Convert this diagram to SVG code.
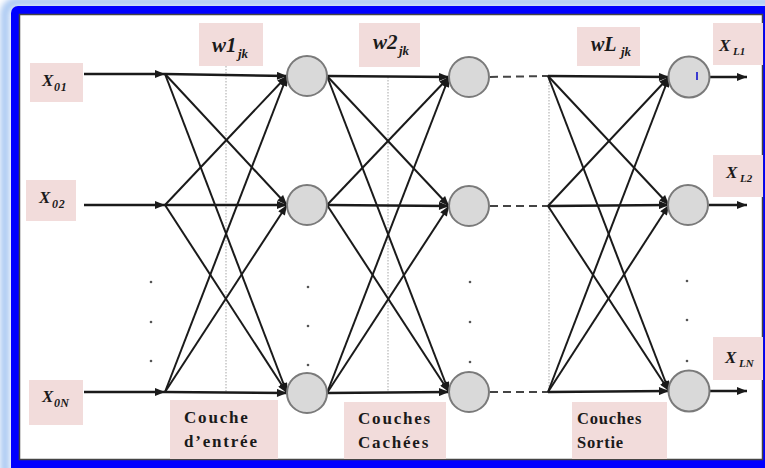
<svg xmlns="http://www.w3.org/2000/svg" width="765" height="468" viewBox="0 0 765 468">
<style>
.box{fill:#f2dcdb}
.lbl{font-family:"Liberation Serif","Times New Roman",serif;font-weight:bold;font-style:italic;fill:#1a1a1a}
.cap{font-family:"Liberation Serif","Times New Roman",serif;font-weight:bold;fill:#1a1a1a;font-size:17px;letter-spacing:1.8px}
.node{fill:#d9d9d9;stroke:#7a7a7a;stroke-width:2}
.ln{stroke:#1a1a1a;stroke-width:2;fill:none}
.ha{stroke-width:2.6}
.dash{stroke:#444;stroke-width:2;stroke-dasharray:8 5;fill:none}
.dot{stroke:#c4c4c4;stroke-width:1.5;stroke-dasharray:1.5 1.5;fill:none}
.pt{fill:#555}
</style>
<defs>
<filter id="glow" x="-5%" y="-5%" width="110%" height="110%"><feGaussianBlur stdDeviation="3"/></filter>
<marker id="arr" viewBox="0 0 10 8" refX="10" refY="4" markerWidth="11" markerHeight="8" markerUnits="userSpaceOnUse" orient="auto"><path d="M0,0 L10,4 L0,8 z" fill="#1a1a1a"/></marker>
</defs>
<rect x="0" y="0" width="765" height="468" fill="#ffffff"/>
<rect x="5" y="2" width="800" height="480" rx="12" fill="none" stroke="#a9c8f2" stroke-width="9" filter="url(#glow)"/>
<rect x="11" y="6" width="800" height="500" rx="7" fill="#0000ff"/>
<rect x="19.5" y="14.5" width="743" height="445" fill="#ffffff" stroke="#444" stroke-width="1.5"/>

<g id="labels-boxes">
<rect class="box" x="30" y="63" width="53" height="39"/>
<rect class="box" x="26" y="180" width="50" height="41"/>
<rect class="box" x="29" y="380" width="54" height="45"/>
<rect class="box" x="199" y="23" width="64" height="43"/>
<rect class="box" x="359" y="23" width="61" height="44"/>
<rect class="box" x="577" y="27" width="63" height="39"/>
<rect class="box" x="713" y="23" width="50" height="42"/>
<rect class="box" x="713" y="155" width="50" height="42"/>
<rect class="box" x="713" y="337" width="50" height="43"/>
<rect class="box" x="170" y="400" width="108" height="59"/>
<rect class="box" x="344" y="402" width="102" height="57"/>
<rect class="box" x="572" y="402" width="95" height="57"/>
</g>

<g id="guides">
<line class="dot" x1="226" y1="66" x2="226" y2="393"/>
<line class="dot" x1="388" y1="77" x2="388" y2="393"/>
<line class="dot" x1="549" y1="76" x2="549" y2="393"/>
</g>

<g id="connectors">
<line class="ln ha" x1="84" y1="74" x2="165" y2="74" marker-end="url(#arr)"/>
<line class="ln ha" x1="84" y1="205" x2="165" y2="205" marker-end="url(#arr)"/>
<line class="ln ha" x1="84" y1="392" x2="165" y2="392" marker-end="url(#arr)"/>
<line class="ln ha" x1="165" y1="74" x2="287" y2="76" marker-end="url(#arr)"/>
<line class="ln" x1="165" y1="74" x2="287" y2="205" marker-end="url(#arr)"/>
<line class="ln" x1="165" y1="74" x2="287" y2="393" marker-end="url(#arr)"/>
<line class="ln" x1="165" y1="205" x2="287" y2="76" marker-end="url(#arr)"/>
<line class="ln ha" x1="165" y1="205" x2="287" y2="205" marker-end="url(#arr)"/>
<line class="ln" x1="165" y1="205" x2="287" y2="393" marker-end="url(#arr)"/>
<line class="ln" x1="165" y1="392" x2="287" y2="76" marker-end="url(#arr)"/>
<line class="ln" x1="165" y1="392" x2="287" y2="205" marker-end="url(#arr)"/>
<line class="ln ha" x1="165" y1="392" x2="287" y2="393" marker-end="url(#arr)"/>
<line class="ln ha" x1="327" y1="76" x2="449" y2="77" marker-end="url(#arr)"/>
<line class="ln" x1="327" y1="76" x2="449" y2="206" marker-end="url(#arr)"/>
<line class="ln" x1="327" y1="76" x2="449" y2="392" marker-end="url(#arr)"/>
<line class="ln" x1="327" y1="205" x2="449" y2="77" marker-end="url(#arr)"/>
<line class="ln ha" x1="327" y1="205" x2="449" y2="206" marker-end="url(#arr)"/>
<line class="ln" x1="327" y1="205" x2="449" y2="392" marker-end="url(#arr)"/>
<line class="ln" x1="327" y1="393" x2="449" y2="77" marker-end="url(#arr)"/>
<line class="ln" x1="327" y1="393" x2="449" y2="206" marker-end="url(#arr)"/>
<line class="ln ha" x1="327" y1="393" x2="449" y2="392" marker-end="url(#arr)"/>
<line class="dash" x1="490" y1="77" x2="548" y2="76"/>
<line class="dash" x1="490" y1="206" x2="548" y2="206"/>
<line class="dash" x1="490" y1="392" x2="548" y2="392"/>
<line class="ln ha" x1="548" y1="76" x2="669" y2="77" marker-end="url(#arr)"/>
<line class="ln" x1="548" y1="76" x2="669" y2="205" marker-end="url(#arr)"/>
<line class="ln" x1="548" y1="76" x2="669" y2="391" marker-end="url(#arr)"/>
<line class="ln" x1="548" y1="206" x2="669" y2="77" marker-end="url(#arr)"/>
<line class="ln ha" x1="548" y1="206" x2="669" y2="205" marker-end="url(#arr)"/>
<line class="ln" x1="548" y1="206" x2="669" y2="391" marker-end="url(#arr)"/>
<line class="ln" x1="548" y1="392" x2="669" y2="77" marker-end="url(#arr)"/>
<line class="ln" x1="548" y1="392" x2="669" y2="205" marker-end="url(#arr)"/>
<line class="ln ha" x1="548" y1="392" x2="669" y2="391" marker-end="url(#arr)"/>
<line class="ln ha" x1="710" y1="77" x2="747" y2="77" marker-end="url(#arr)"/>
<line class="ln ha" x1="709" y1="205" x2="747" y2="205" marker-end="url(#arr)"/>
<line class="ln ha" x1="710" y1="391" x2="747" y2="391" marker-end="url(#arr)"/>
</g>

<g id="ellipsis">
<circle class="pt" cx="151" cy="282" r="1.3"/><circle class="pt" cx="151" cy="322" r="1.3"/><circle class="pt" cx="151" cy="361" r="1.3"/>
<circle class="pt" cx="308" cy="287" r="1.3"/><circle class="pt" cx="308" cy="326" r="1.3"/><circle class="pt" cx="308" cy="365" r="1.3"/>
<circle class="pt" cx="470" cy="282" r="1.3"/><circle class="pt" cx="470" cy="322" r="1.3"/><circle class="pt" cx="470" cy="362" r="1.3"/>
<circle class="pt" cx="687" cy="281" r="1.3"/><circle class="pt" cx="687" cy="320" r="1.3"/><circle class="pt" cx="687" cy="361" r="1.3"/>
</g>

<g id="n-h1-1"><circle class="node" cx="307" cy="76" r="20"/></g>
<g id="n-h1-2"><circle class="node" cx="307" cy="205" r="20"/></g>
<g id="n-h1-N"><circle class="node" cx="307" cy="393" r="20"/></g>
<g id="n-h2-1"><circle class="node" cx="469" cy="77" r="20"/></g>
<g id="n-h2-2"><circle class="node" cx="469" cy="206" r="20"/></g>
<g id="n-h2-N"><circle class="node" cx="469" cy="392" r="20"/></g>
<g id="n-out-1"><circle class="node" cx="689" cy="77" r="20.5"/><line x1="697" y1="72" x2="697" y2="80" stroke="#3a3ad0" stroke-width="2"/></g>
<g id="n-out-2"><circle class="node" cx="688" cy="205" r="20"/></g>
<g id="n-out-N"><circle class="node" cx="689" cy="391" r="20.5"/></g>

<g id="in-1"><text class="lbl" font-size="17"><tspan x="42" y="86">X</tspan><tspan x="54" y="91" font-size="12" letter-spacing="0.8">01</tspan></text></g>
<g id="in-2"><text class="lbl" font-size="17"><tspan x="39" y="203">X</tspan><tspan x="52" y="208" font-size="12" letter-spacing="0.8">02</tspan></text></g>
<g id="in-N"><text class="lbl" font-size="17"><tspan x="42" y="402">X</tspan><tspan x="54" y="407" font-size="12" letter-spacing="0.3">0N</tspan></text></g>
<g id="w1"><text class="lbl" font-size="21"><tspan x="212" y="52">w1</tspan><tspan x="238" y="58" font-size="13">jk</tspan></text></g>
<g id="w2"><text class="lbl" font-size="21"><tspan x="373" y="49">w2</tspan><tspan x="399" y="55" font-size="13">jk</tspan></text></g>
<g id="wL"><text class="lbl" font-size="20"><tspan x="591" y="51">wL</tspan><tspan x="621" y="56" font-size="13">jk</tspan></text></g>
<g id="out-1"><text class="lbl" font-size="17"><tspan x="719" y="51">X</tspan><tspan x="733" y="55" font-size="11">L1</tspan></text></g>
<g id="out-2"><text class="lbl" font-size="17"><tspan x="726" y="178">X</tspan><tspan x="740" y="182" font-size="11">L2</tspan></text></g>
<g id="out-N"><text class="lbl" font-size="17"><tspan x="725" y="363">X</tspan><tspan x="739" y="367" font-size="11">LN</tspan></text></g>
<g id="cap-entree"><text class="cap"><tspan x="184" y="423">Couche</tspan><tspan x="184" y="447">d’entrée</tspan></text></g>
<g id="cap-cachees"><text class="cap"><tspan x="358" y="424">Couches</tspan><tspan x="358" y="448">Cachées</tspan></text></g>
<g id="cap-sortie"><text class="cap" style="font-size:16.5px;letter-spacing:0.8px"><tspan x="577" y="424">Couches</tspan><tspan x="577" y="448">Sortie</tspan></text></g>
</svg>
